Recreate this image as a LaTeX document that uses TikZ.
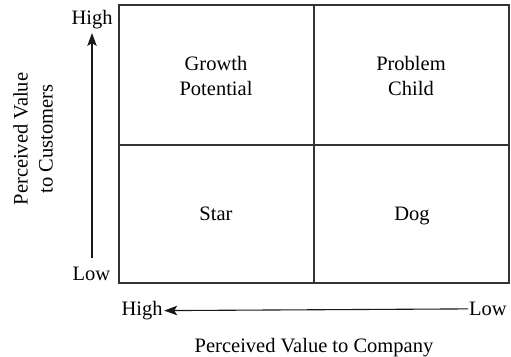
\documentclass[tikz,border=0pt]{standalone}
\usepackage{fontspec}
\setmainfont{Liberation Serif}
\usetikzlibrary{arrows.meta}
\begin{document}
\begin{tikzpicture}[x=1pt,y=-1pt,
  lbl/.style={font=\fontsize{20.5}{25}\selectfont, align=center, inner sep=0pt},
  frame/.style={line width=1.2pt, draw=black!80},
  axis/.style={line width=1.1pt, draw=black!90, -{Stealth[length=13pt,width=9.5pt,inset=3pt]}}]
\useasboundingbox (0,0) rectangle (511,356);
\coordinate (tl) at (119,5);
\coordinate (br) at (509,283);
\draw[frame] (tl) rectangle (br);
\draw[frame] (314,5) -- (314,283);
\draw[frame] (119,145) -- (509,145);
\node[lbl] (gp) at (216,76) {Growth\\Potential};
\node[lbl] (pc) at (411,76) {Problem\\Child};
\node[lbl, anchor=base] (st) at (216,220) {Star};
\node[lbl, anchor=base] (dg) at (412,220) {Dog};
\node[lbl, anchor=base] (vhigh) at (92,24) {High};
\node[lbl, anchor=base] (vlow) at (91.5,280) {Low};
\coordinate (vs) at (92,258);
\coordinate (ve) at (92,33);
\draw[axis] (vs) -- (ve);
\node[lbl, anchor=base] (hhigh) at (142,315.5) {High};
\node[lbl, anchor=base] (hlow) at (488,315.5) {Low};
\draw[axis] ([xshift=-1pt]hlow.west) coordinate (hs) -- ([xshift=1.5pt]hhigh.east) coordinate (he);
\node[lbl, rotate=90] (ylab) at (33,139) {Perceived Value\\to Customers};
\node[lbl, anchor=base] (xlab) at (314,352) {Perceived Value to Company};
\end{tikzpicture}
\end{document}
